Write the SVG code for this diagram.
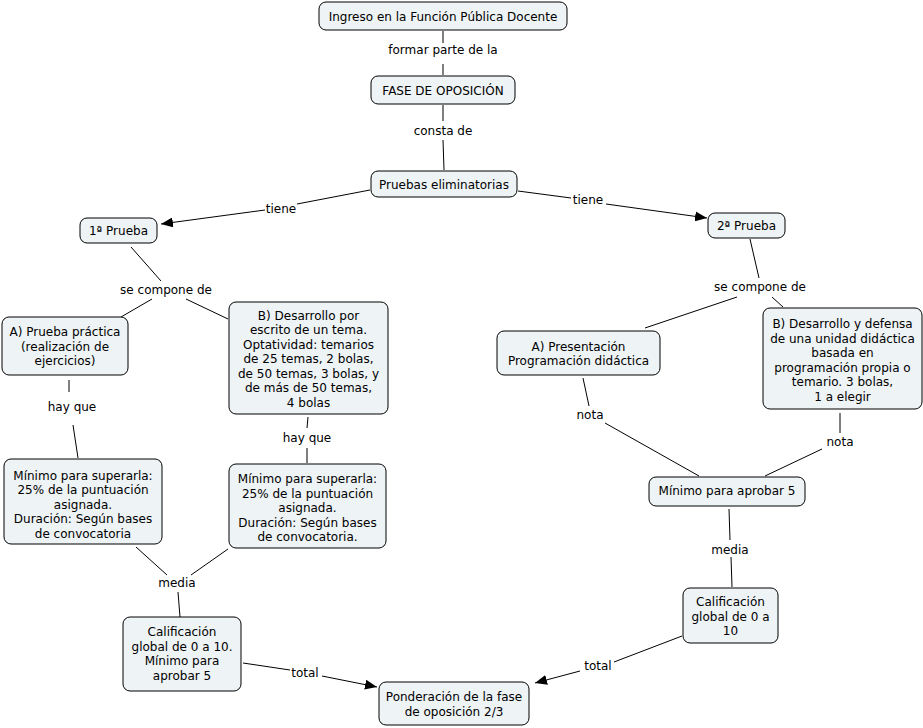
<svg xmlns="http://www.w3.org/2000/svg" width="923" height="728" viewBox="0 0 923 728">
<style>
  .n rect { fill: #EEF3F5; stroke: #000; stroke-width: 1; }
  text { font-family: "DejaVu Sans", Verdana, sans-serif; font-size: 12px; fill: #000; text-anchor: middle; }
  .c line { stroke: #000; stroke-width: 1; }
  .c .a { marker-end: url(#arr); }
</style>
<defs>
  <marker id="arr" viewBox="0 0 12 10" refX="12" refY="5" markerWidth="12" markerHeight="10" markerUnits="userSpaceOnUse" orient="auto">
    <path d="M0,0 L12,5 L0,10 z" fill="#000"/>
  </marker>
</defs>
<rect width="923" height="728" fill="#fff"/>
<g class="c" id="connectors">
  <line x1="443" y1="31" x2="443" y2="43"/>
  <line x1="443" y1="64" x2="443" y2="75"/>
  <line x1="443" y1="105" x2="443" y2="121"/>
  <line x1="443" y1="140" x2="444" y2="170"/>
  <line x1="370" y1="190" x2="297" y2="204"/>
  <line class="a" x1="265" y1="210" x2="161" y2="224"/>
  <line x1="518" y1="191" x2="571" y2="198"/>
  <line class="a" x1="606" y1="204" x2="707" y2="218"/>
  <line x1="131" y1="247" x2="161" y2="281"/>
  <line x1="152" y1="299" x2="121" y2="317"/>
  <line x1="186" y1="299" x2="228" y2="319"/>
  <line x1="69" y1="380" x2="69" y2="392"/>
  <line x1="73" y1="425" x2="78" y2="458"/>
  <line x1="308" y1="417" x2="307" y2="428"/>
  <line x1="307" y1="448" x2="307" y2="463"/>
  <line x1="136" y1="547" x2="167" y2="575"/>
  <line x1="228" y1="549" x2="191" y2="575"/>
  <line x1="178" y1="592" x2="180" y2="617"/>
  <line x1="243" y1="663" x2="290" y2="670"/>
  <line class="a" x1="322" y1="676" x2="377" y2="687"/>
  <line x1="750" y1="239" x2="759" y2="278"/>
  <line x1="737" y1="297" x2="645" y2="328"/>
  <line x1="772" y1="297" x2="783" y2="307"/>
  <line x1="583" y1="378" x2="589" y2="406"/>
  <line x1="605" y1="423" x2="699" y2="476"/>
  <line x1="840" y1="413" x2="840" y2="433"/>
  <line x1="822" y1="449" x2="765" y2="476"/>
  <line x1="729" y1="509" x2="730" y2="540"/>
  <line x1="731" y1="557" x2="732" y2="587"/>
  <line x1="682" y1="636" x2="614" y2="662"/>
  <line class="a" x1="580" y1="671" x2="535" y2="683"/>
  <text x="443" y="54">formar parte de la</text>
  <text x="443" y="134.5">consta de</text>
  <text x="281" y="213">tiene</text>
  <text x="588" y="204">tiene</text>
  <text x="166" y="294">se compone de</text>
  <text x="760" y="291">se compone de</text>
  <text x="72" y="411">hay que</text>
  <text x="307" y="441.5">hay que</text>
  <text x="590" y="418.5">nota</text>
  <text x="840" y="445.5">nota</text>
  <text x="177" y="587">media</text>
  <text x="730" y="553.5">media</text>
  <text x="305" y="676.5">total</text>
  <text x="598" y="669.5">total</text>
</g>
<g class="n" id="n1"><rect x="319" y="2" width="248" height="28" rx="7"/><text x="443" y="20.5">Ingreso en la Función Pública Docente</text></g>
<g class="n" id="n2"><rect x="371" y="76" width="144" height="28" rx="7"/><text x="443" y="94.5">FASE DE OPOSICIÓN</text></g>
<g class="n" id="n3"><rect x="371" y="171" width="146" height="26" rx="7"/><text x="444" y="188.5">Pruebas eliminatorias</text></g>
<g class="n" id="n4"><rect x="80" y="218" width="77" height="25" rx="7"/><text x="118.5" y="235">1ª Prueba</text></g>
<g class="n" id="n5"><rect x="2" y="317" width="126" height="58" rx="7"/><text x="65" y="336">A) Prueba práctica</text><text x="65" y="350.5">(realización de</text><text x="65" y="365">ejercicios)</text></g>
<g class="n" id="n6"><rect x="229" y="302" width="159" height="112" rx="7"/><text x="308.5" y="319.5">B) Desarrollo por</text><text x="308.5" y="334">escrito de un tema.</text><text x="308.5" y="348.5">Optatividad: temarios</text><text x="308.5" y="363">de 25 temas, 2 bolas,</text><text x="308.5" y="377.5">de 50 temas, 3 bolas, y</text><text x="308.5" y="392">de más de 50 temas,</text><text x="308.5" y="406.5">4 bolas</text></g>
<g class="n" id="n7"><rect x="4" y="459" width="158" height="85" rx="7"/><text x="83" y="479.5">Mínimo para superarla:</text><text x="83" y="494">25% de la puntuación</text><text x="83" y="508.5">asignada.</text><text x="83" y="523">Duración: Según bases</text><text x="83" y="537.5">de convocatoria</text></g>
<g class="n" id="n8"><rect x="229" y="464" width="157" height="84" rx="7"/><text x="307.5" y="483">Mínimo para superarla:</text><text x="307.5" y="497.5">25% de la puntuación</text><text x="307.5" y="512">asignada.</text><text x="307.5" y="526.5">Duración: Según bases</text><text x="307.5" y="541">de convocatoria.</text></g>
<g class="n" id="n9"><rect x="708" y="213" width="77" height="25" rx="7"/><text x="746.5" y="230">2ª Prueba</text></g>
<g class="n" id="n10"><rect x="497" y="331" width="163" height="44" rx="7"/><text x="578.5" y="350.5">A) Presentación</text><text x="578.5" y="365">Programación didáctica</text></g>
<g class="n" id="n11"><rect x="763" y="308" width="159" height="101" rx="7"/><text x="842.5" y="328">B) Desarrollo y defensa</text><text x="842.5" y="342.5">de una unidad didáctica</text><text x="842.5" y="357">basada en</text><text x="842.5" y="371.5">programación propia o</text><text x="842.5" y="386">temario. 3 bolas,</text><text x="842.5" y="400.5">1 a elegir</text></g>
<g class="n" id="n12"><rect x="649" y="477" width="156" height="29" rx="7"/><text x="727" y="494.5">Mínimo para aprobar 5</text></g>
<g class="n" id="n13"><rect x="123" y="617" width="118" height="74" rx="7"/><text x="182" y="636">Calificación</text><text x="182" y="650.5">global de 0 a 10.</text><text x="182" y="665">Mínimo para</text><text x="182" y="679.5">aprobar 5</text></g>
<g class="n" id="n14"><rect x="379" y="682" width="150" height="43" rx="7"/><text x="454" y="701">Ponderación de la fase</text><text x="454" y="715.5">de oposición 2/3</text></g>
<g class="n" id="n15"><rect x="683" y="588" width="95" height="55" rx="7"/><text x="730.5" y="606">Calificación</text><text x="730.5" y="620.5">global de 0 a</text><text x="730.5" y="635">10</text></g>
</svg>
